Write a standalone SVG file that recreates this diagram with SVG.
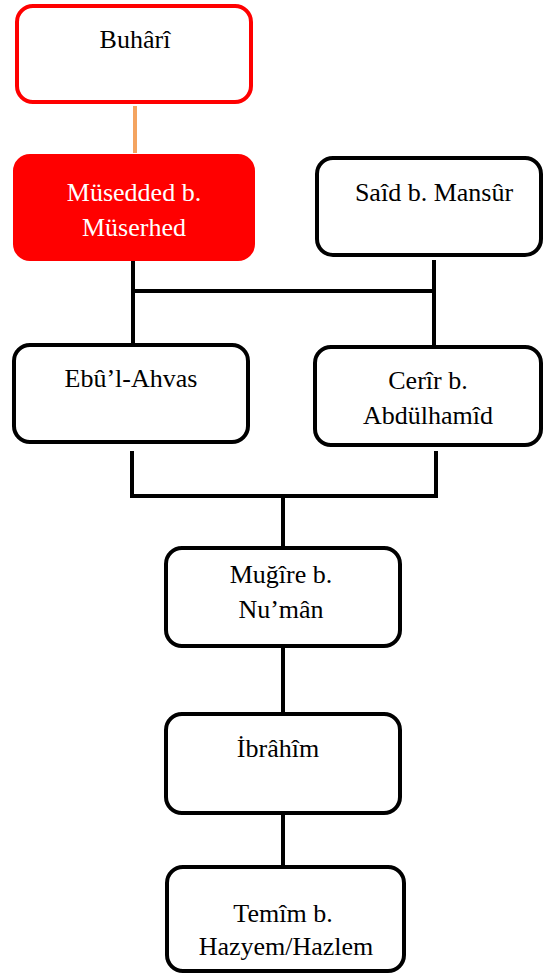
<svg xmlns="http://www.w3.org/2000/svg" width="544" height="979" viewBox="0 0 544 979">
<style>
.box{fill:#fff;stroke:#000;stroke-width:4}
.red{fill:#fff;stroke:#ff0000;stroke-width:4}
.redfill{fill:#ff0000;stroke:#ff0000;stroke-width:2}
.t{font-family:"Liberation Serif","Times New Roman",serif;font-size:26px;fill:#000;text-anchor:middle}
.w{fill:#fff}
.c{stroke:#000;stroke-width:4;fill:none;stroke-linecap:square}
.o{stroke:#f4a460;stroke-width:4;fill:none}
</style>
<rect width="544" height="979" fill="#fff"/>
<g id="connectors">
<line class="o" x1="135" y1="106" x2="135" y2="153"/>
<polyline class="c" points="133,262 133,343"/>
<polyline class="c" points="434,262 434,345"/>
<line class="c" x1="133" y1="291" x2="434" y2="291"/>
<polyline class="c" points="132,453 132,496 436,496 436,453"/>
<line class="c" x1="283" y1="496" x2="283" y2="546"/>
<line class="c" x1="283" y1="648" x2="283" y2="712"/>
<line class="c" x1="283" y1="815" x2="283" y2="865"/>
</g>
<g id="buhari">
<rect class="red" x="17" y="6" width="234" height="96" rx="16"/>
<text class="t" x="135" y="48">Buhârî</text>
</g>
<g id="musedded">
<rect class="redfill" x="14" y="155" width="240" height="105" rx="16"/>
<text class="t w" x="134" y="201">Müsedded b.</text>
<text class="t w" x="134" y="236">Müserhed</text>
</g>
<g id="said">
<rect class="box" x="317" y="158" width="224" height="97" rx="16"/>
<text class="t" x="434" y="201">Saîd b. Mansûr</text>
</g>
<g id="ebul-ahvas">
<rect class="box" x="14" y="345" width="234" height="97" rx="16"/>
<text class="t" x="131" y="387">Ebû’l-Ahvas</text>
</g>
<g id="cerir">
<rect class="box" x="315" y="347" width="226" height="98" rx="16"/>
<text class="t" x="428" y="389">Cerîr b.</text>
<text class="t" x="428" y="424">Abdülhamîd</text>
</g>
<g id="mugire">
<rect class="box" x="166" y="548" width="234" height="98" rx="16"/>
<text class="t" x="281" y="583">Muğîre b.</text>
<text class="t" x="281" y="618">Nu’mân</text>
</g>
<g id="ibrahim">
<rect class="box" x="166" y="714" width="234" height="99" rx="16"/>
<text class="t" x="278" y="757">İbrâhîm</text>
</g>
<g id="temim">
<rect class="box" x="167" y="867" width="237" height="104" rx="16"/>
<text class="t" x="283" y="922">Temîm b.</text>
<text class="t" x="286" y="955">Hazyem/Hazlem</text>
</g>
</svg>
